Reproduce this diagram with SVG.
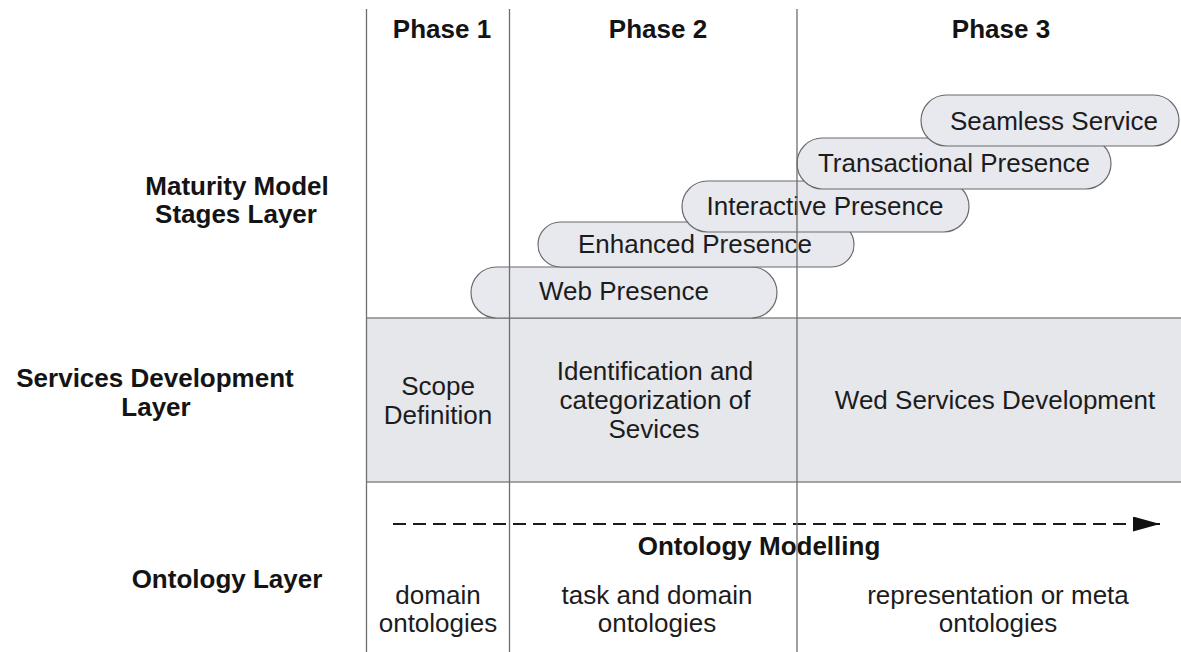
<svg xmlns="http://www.w3.org/2000/svg" width="1181" height="652" viewBox="0 0 1181 652">
  <style>
    text { font-family: "Liberation Sans", Arial, sans-serif; font-size: 26px; fill: #1c1c1c; text-anchor: middle; }
    .b { font-weight: bold; fill: #141414; }
    .pill { fill: #e7e9ee; stroke: #6b6b6b; stroke-width: 1.2; }
    .vline { stroke: #6e6e6e; stroke-width: 1.3; fill: none; }
    .hline { stroke: #8a8a8a; stroke-width: 1.5; fill: none; }
  </style>
  <defs>
    <marker id="arrow" markerWidth="28" markerHeight="16" refX="27" refY="7.5" orient="auto" markerUnits="userSpaceOnUse">
      <path d="M0,0 L27,7.5 L0,15 Z" fill="#111"/>
    </marker>
  </defs>
  <rect width="1181" height="652" fill="#ffffff"/>

  <g id="layer-labels">
    <text class="b" x="237" y="195">Maturity Model</text>
    <text class="b" x="236" y="223">Stages Layer</text>
    <text class="b" x="155" y="387">Services Development</text>
    <text class="b" x="156" y="416">Layer</text>
    <text class="b" x="227" y="588">Ontology Layer</text>
  </g>

  <g id="phase-headers">
    <text class="b" x="442" y="38">Phase 1</text>
    <text class="b" x="658" y="38">Phase 2</text>
    <text class="b" x="1001" y="38">Phase 3</text>
  </g>

  <g id="services-band">
    <rect x="366" y="318" width="815" height="164" fill="#e5e7eb"/>
    <line class="hline" x1="366" y1="318" x2="1181" y2="318"/>
    <line class="hline" x1="366" y1="482" x2="1181" y2="482"/>
  </g>

  <g id="scope-definition">
    <text x="438" y="395">Scope</text>
    <text x="438" y="424">Definition</text>
  </g>
  <g id="identification">
    <text x="655" y="380">Identification and</text>
    <text x="655" y="409">categorization of</text>
    <text x="654" y="438">Sevices</text>
  </g>
  <g id="web-services-dev">
    <text x="995" y="409">Wed Services Development</text>
  </g>

  <g id="web-presence">
    <rect class="pill" x="471" y="267" width="306" height="51" rx="25.5"/>
    <text x="624" y="300">Web Presence</text>
  </g>
  <g id="enhanced-presence">
    <rect class="pill" x="538" y="222" width="316" height="45" rx="22.5"/>
    <text x="695" y="253">Enhanced Presence</text>
  </g>
  <g id="interactive-presence">
    <rect class="pill" x="682" y="181" width="287" height="51" rx="25.5"/>
    <text x="825" y="215">Interactive Presence</text>
  </g>
  <g id="transactional-presence">
    <rect class="pill" x="797" y="138" width="314" height="51" rx="25.5"/>
    <text x="954" y="172">Transactional Presence</text>
  </g>
  <g id="seamless-service">
    <rect class="pill" x="921" y="95" width="258" height="51" rx="25.5"/>
    <text x="1054" y="130">Seamless Service</text>
  </g>

  <g id="ontology-texts">
    <text class="b" x="759" y="555">Ontology Modelling</text>
    <text x="438" y="604">domain</text>
    <text x="438" y="632">ontologies</text>
    <text x="657" y="604">task and domain</text>
    <text x="657" y="632">ontologies</text>
    <text x="998" y="604">representation or meta</text>
    <text x="998" y="632">ontologies</text>
  </g>

  <g id="connectors">
    <line x1="393" y1="524" x2="1160" y2="524" stroke="#1a1a1a" stroke-width="2" stroke-dasharray="13 7" marker-end="url(#arrow)"/>
  </g>

  <g id="phase-dividers">
    <line class="vline" x1="366.5" y1="9" x2="366.5" y2="652"/>
    <line class="vline" x1="509.5" y1="9" x2="509.5" y2="652"/>
    <line class="vline" x1="797" y1="9" x2="797" y2="652"/>
  </g>
</svg>
